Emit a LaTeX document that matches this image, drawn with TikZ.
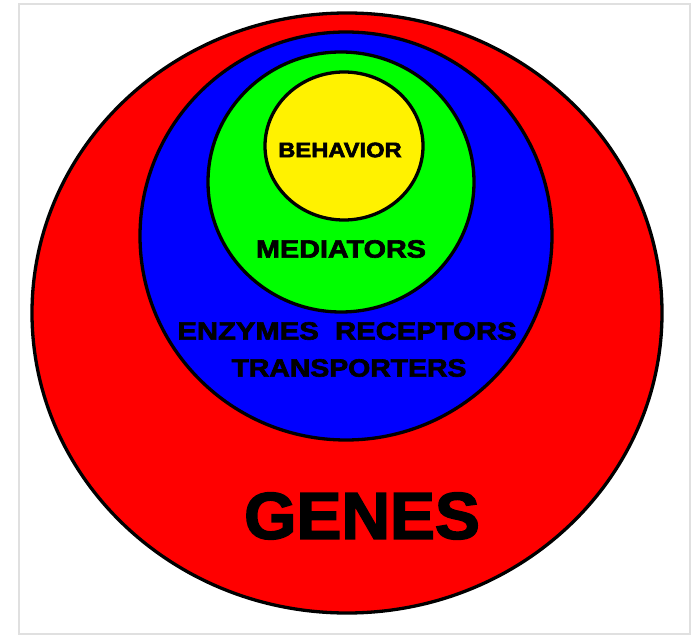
\documentclass[tikz,border=0pt]{standalone}
\usepackage{fontspec}
\setmainfont{Liberation Sans}[BoldFeatures={FakeBold=2.5}]
\begin{document}
\begin{tikzpicture}[x=1pt,y=-1pt,
  ring/.style={draw=black,line width=3.3pt},
  lbl/.style={font=\bfseries,text=black,inner sep=0pt,anchor=center}]
\useasboundingbox (0,0) rectangle (693,636);
\draw[color=black!12,line width=1.5pt] (19,4) rectangle (690,634);
\fill[red,ring] (347,313) ellipse [x radius=315,y radius=300];
\fill[blue,ring] (346,236) ellipse [x radius=206,y radius=204];
\fill[green,ring] (341,182) ellipse [x radius=133,y radius=130];
\fill[yellow,ring] (344,146) ellipse [x radius=79,y radius=74];
\node[lbl,font=\fontsize{21}{21}\bfseries,xscale=1.13] (behavior) at (340,150) {BEHAVIOR};
\node[lbl,font=\fontsize{25}{25}\bfseries,xscale=1.15] (mediators) at (341,249) {MEDIATORS};
\node[lbl,font=\fontsize{25}{25}\bfseries,xscale=1.17] (ezr) at (347,331) {ENZYMES\ \ RECEPTORS};
\node[lbl,font=\fontsize{25}{25}\bfseries,xscale=1.135] (transp) at (349,368) {TRANSPORTERS};
\node[lbl,font=\fontsize{66}{66}\bfseries,xscale=1.02] (genes) at (362,516) {GENES};
\end{tikzpicture}
\end{document}
